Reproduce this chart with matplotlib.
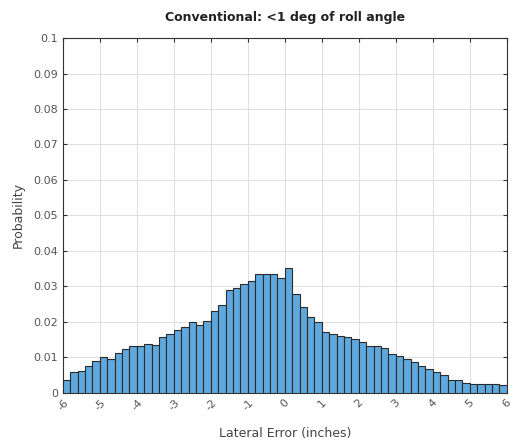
import matplotlib
matplotlib.use("Agg")
import matplotlib.pyplot as plt
import numpy as np

bin_edges = [round(-6 + 0.2 * i, 1) for i in range(61)]
probability = [
    0.0037, 0.0058, 0.0063, 0.0076, 0.0090, 0.0100, 0.0096, 0.0112, 0.0125, 0.0131,
    0.0133, 0.0137, 0.0135, 0.0158, 0.0165, 0.0177, 0.0185, 0.0201, 0.0192, 0.0203,
    0.0231, 0.0248, 0.0289, 0.0297, 0.0308, 0.0315, 0.0334, 0.0334, 0.0334, 0.0325,
    0.0353, 0.0279, 0.0243, 0.0213, 0.0200, 0.0173, 0.0165, 0.0161, 0.0158, 0.0151,
    0.0143, 0.0132, 0.0131, 0.0128, 0.0111, 0.0104, 0.0095, 0.0086, 0.0076, 0.0067,
    0.0058, 0.0050, 0.0036, 0.0037, 0.0029, 0.0025, 0.0025, 0.0025, 0.0025, 0.0023,
]
x_ticks = list(range(-6, 7))
y_ticks = [0, 0.01, 0.02, 0.03, 0.04, 0.05, 0.06, 0.07, 0.08, 0.09, 0.1]
y_tick_labels = ["0", "0.01", "0.02", "0.03", "0.04", "0.05", "0.06", "0.07", "0.08", "0.09", "0.1"]

fig = plt.figure(figsize=(5.15, 4.42), dpi=100)
ax = fig.add_axes([0.122, 0.111, 0.862, 0.803])

lefts = np.array(bin_edges[:-1])
widths = np.diff(bin_edges)
ax.bar(lefts, probability, width=widths, align="edge",
       color="#5ea8de", edgecolor="#2a2a2a", linewidth=0.8, zorder=3)

ax.set_xlim(-6, 6)
ax.set_ylim(0, 0.1)
ax.set_xticks(x_ticks)
ax.set_xticklabels([str(t) for t in x_ticks], rotation=45, fontsize=8, color="#555555")
ax.set_yticks(y_ticks)
ax.set_yticklabels(y_tick_labels, fontsize=8, color="#555555")
ax.grid(True, color="#e0e0e0", linewidth=0.8, zorder=0)
ax.tick_params(direction="in", length=3, color="#333333", top=True, right=True)
for s in ax.spines.values():
    s.set_color("#333333")
    s.set_linewidth(0.8)

ax.set_title("Conventional: <1 deg of roll angle", fontsize=9, fontweight="bold",
             color="#222222", pad=12)
ax.set_xlabel("Lateral Error (inches)", fontsize=9, color="#444444", labelpad=10)
ax.set_ylabel("Probability", fontsize=9, color="#444444", labelpad=6)

fig.savefig("out.png", dpi=100)
